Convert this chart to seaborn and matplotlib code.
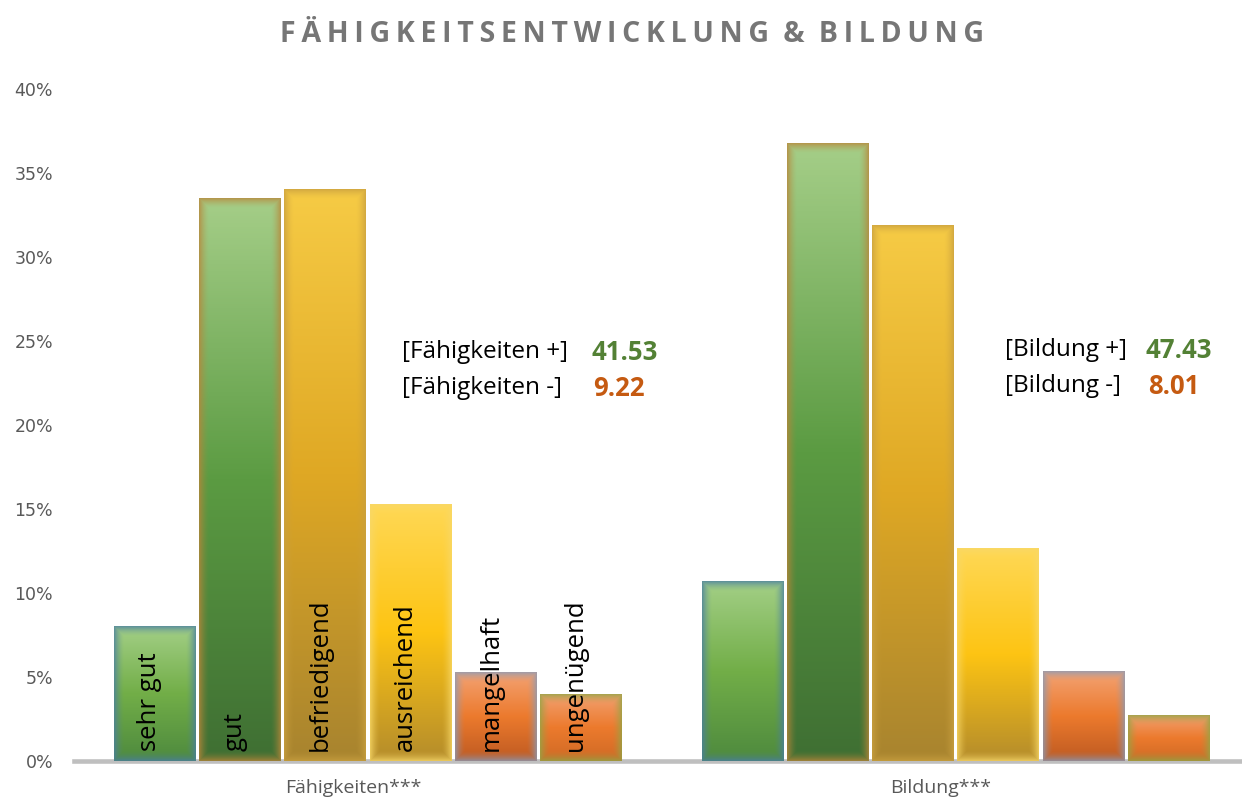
import numpy as np
import pandas as pd
import seaborn as sns
from matplotlib import pyplot as plt
from matplotlib.colors import LinearSegmentedColormap, to_rgb
from matplotlib.transforms import ScaledTranslation


groups = ['Fähigkeiten***', 'Bildung***']
grades = ['sehr gut', 'gut', 'befriedigend', 'ausreichend', 'mangelhaft', 'ungenügend']
faehigkeiten = [8.03, 33.50, 34.00, 15.25, 5.25, 3.97]
bildung = [10.68, 36.75, 31.85, 12.62, 5.33, 2.68]
yticks = [0, 5, 10, 15, 20, 25, 30, 35, 40]
summary_labels = [['[Fähigkeiten +]', '[Fähigkeiten -]'], ['[Bildung +]', '[Bildung -]']]
summary_values = [['41.53', '9.22'], ['47.43', '8.01']]

# gradient stops (top, middle, bottom) and soft edge colour per grade
stops = {
    'sehr gut': ['#A3CF86', '#72AE48', '#4E8A3E'],
    'gut': ['#A5CE88', '#5B9B42', '#3F6F33'],
    'befriedigend': ['#F6CB45', '#DFA824', '#A8842F'],
    'ausreichend': ['#FFD855', '#FDC413', '#B48C2C'],
    'mangelhaft': ['#F3A273', '#EC7A2D', '#BE5A22'],
    'ungenügend': ['#F2A070', '#EC7A2D', '#CF6A25'],
}
edges = {
    'sehr gut': '#4A7FA0',
    'gut': '#B8863A',
    'befriedigend': '#C9A040',
    'ausreichend': '#F8D868',
    'mangelhaft': '#8A9AB5',
    'ungenügend': '#93A545',
}

df = pd.DataFrame({
    'group': np.repeat(groups, len(grades)),
    'grade': grades * len(groups),
    'value': faehigkeiten + bildung,
})

W, H = 1242, 802
fig = plt.figure(figsize=(W / 100, H / 100), dpi=100)
ax = fig.add_axes([74 / W, 41 / H, (W - 74) / W, 672 / H])

sns.barplot(data=df, x='group', y='value', hue='grade', hue_order=grades, order=groups,
            width=0.87, gap=0.04, palette=[stops[g][1] for g in grades],
            legend=False, ax=ax, errorbar=None)

ax.set_xlim(-0.5, 1.487)
ax.set_ylim(0, 40)
fig.canvas.draw()


def bar_image(grade, w_px, h_px):
    cmap = LinearSegmentedColormap.from_list(grade, stops[grade])
    t = np.linspace(0, 1, h_px)[:, None]
    rgb = cmap(np.repeat(t, w_px, axis=1))[..., :3]
    xx = np.arange(w_px)
    yy = np.arange(h_px)
    dx = np.minimum(xx, w_px - 1 - xx)[None, :]
    dy = np.minimum(yy, h_px - 1 - yy)[:, None]
    d = np.minimum(dx, dy).astype(float)
    a = np.clip(1 - d / 10.0, 0, 1) ** 1.6 * 0.75
    e = np.array(to_rgb(edges[grade]))
    return rgb * (1 - a[..., None]) + e * a[..., None]


for i, cont in enumerate(ax.containers):
    grade = grades[i]
    for bar in cont:
        x0, w, h = bar.get_x(), bar.get_width(), bar.get_height()
        p0 = ax.transData.transform((x0, 0))
        p1 = ax.transData.transform((x0 + w, h))
        w_px = max(int(round(p1[0] - p0[0])), 2)
        h_px = max(int(round(p1[1] - p0[1])), 2)
        img = bar_image(grade, w_px, h_px)
        ax.imshow(img, extent=(x0, x0 + w, 0, h), aspect='auto', zorder=2,
                  interpolation='bilinear')
        bar.set_visible(False)

ax.set_xlim(-0.5, 1.487)
ax.set_ylim(0, 40)

# grade labels inside the first group
for i, cont in enumerate(ax.containers):
    bar = cont[0]
    cx = bar.get_x() + bar.get_width() / 2
    ax.annotate(grades[i], (cx, 0.6), xytext=(-5, 0), textcoords='offset pixels',
                rotation=90, ha='center', va='bottom', fontsize=18.5,
                family='Open Sans', color='black', zorder=5)

for s in ['left', 'right', 'top']:
    ax.spines[s].set_visible(False)
ax.spines['bottom'].set_color('#BFBFBF')
ax.spines['bottom'].set_linewidth(3.3)
ax.spines['bottom'].set_zorder(1)

ax.set_yticks(yticks)
ax.set_yticklabels([f'{v}%' for v in yticks], fontsize=12.5, color='#595959', family='DejaVu Sans')
ax.tick_params(axis='y', length=0, pad=15)
ax.tick_params(axis='x', length=0, pad=13)
ax.set_xticks([0, 1])
ax.set_xticklabels(groups, fontsize=14, color='#595959', family='Open Sans')
shift = ScaledTranslation(-15 / 100, 0, fig.dpi_scale_trans)
for lab in ax.get_xticklabels():
    lab.set_transform(lab.get_transform() + shift)
ax.set_xlabel('')
ax.set_ylabel('')

title = 'FÄHIGKEITSENTWICKLUNG & BILDUNG'
spaced = '\u2009'.join(title).replace('\u2009 \u2009', '\u2002')
fig.text(632 / W, 1 - 35 / H, spaced, ha='center', va='center', fontsize=20.5,
         fontweight='bold', color='#767676', family=['Open Sans', 'DejaVu Sans'])

# summary annotations
label_x = [402 / W, 1005 / W]
value_x = [[591 / W, 593 / W], [1146 / W, 1148 / W]]
line_y = [[1 - 352 / H, 1 - 388 / H], [1 - 350 / H, 1 - 386 / H]]
value_colors = ['#538135', '#C55A11']
for g in range(2):
    for k in range(2):
        fig.text(label_x[g], line_y[g][k], summary_labels[g][k], ha='left', va='center',
                 fontsize=17.5, family='Open Sans', color='black')
        fig.text(value_x[g][k], line_y[g][k], summary_values[g][k], ha='left', va='center',
                 fontsize=18.5, fontweight='bold', family='Open Sans', color=value_colors[k])

fig.savefig('out.png', dpi=100)
